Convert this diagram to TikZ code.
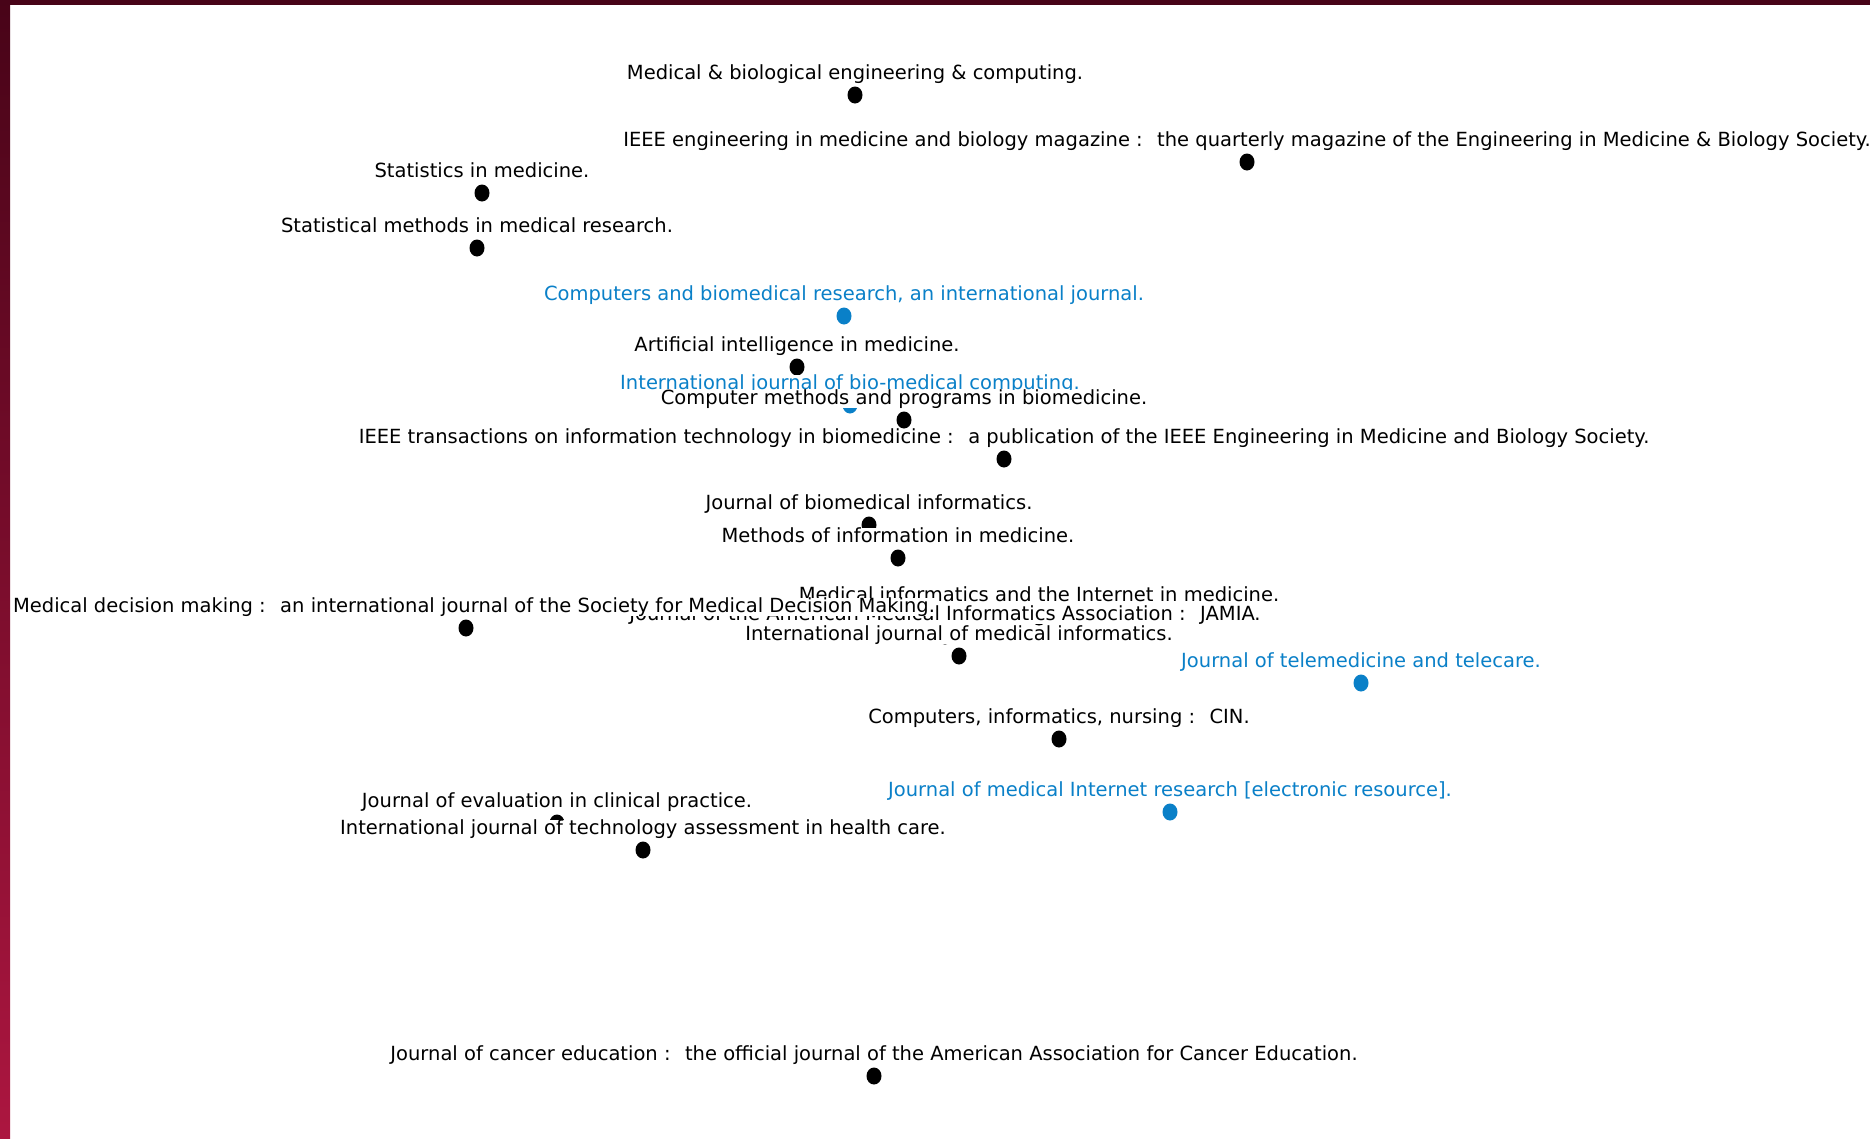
\documentclass[tikz,border=0pt]{standalone}
\usepackage{fontspec}
\setmainfont{DejaVu Sans}
\usetikzlibrary{shapes.geometric}
\definecolor{jblue}{RGB}{10,128,200}
\definecolor{barTop}{RGB}{72,4,24}
\definecolor{barBot}{RGB}{172,22,64}
\begin{document}
\begin{tikzpicture}[x=1pt,y=-1pt,
	jdot/.style={ellipse,fill=black,inner sep=0pt,minimum width=15pt,minimum height=17pt},
	bdot/.style={jdot,fill=jblue},
	lab/.style={fill=white,inner sep=0pt,text height=14pt,text depth=4pt,font=\fontsize{19.5}{22}\selectfont},
	blab/.style={lab,text=jblue}]
		%
		\useasboundingbox[fill=white] (0,0) rectangle (1870,1138);
		%
		\node[jdot] (d1) at (855,95) {};
		\node[lab] (t1) at (855,74) {Medical \& biological engineering \& computing.};
		\node[jdot] (d2) at (1247,162) {};
		\node[lab] (t2) at (1247,141) {IEEE engineering in medicine and biology magazine :~ the quarterly magazine of the Engineering in Medicine \& Biology Society.};
		\node[jdot] (d3) at (482,193) {};
		\node[lab] (t3) at (482,172) {Statistics in medicine.};
		\node[jdot] (d4) at (477,248) {};
		\node[lab] (t4) at (477,227) {Statistical methods in medical research.};
		\node[bdot] (d5) at (844,316) {};
		\node[blab] (t5) at (844,295) {Computers and biomedical research, an international journal.};
		\node[jdot] (d6) at (797,367) {};
		\node[lab] (t6) at (797,346) {Artificial intelligence in medicine.};
		\node[bdot] (d7) at (850,405) {};
		\node[blab] (t7) at (850,384) {International journal of bio-medical computing.};
		\node[jdot] (d8) at (904,420) {};
		\node[lab] (t8) at (904,399) {Computer methods and programs in biomedicine.};
		\node[jdot] (d9) at (1004,459) {};
		\node[lab] (t9) at (1004,438) {IEEE transactions on information technology in biomedicine :~ a publication of the IEEE Engineering in Medicine and Biology Society.};
		%
		\node[jdot] (d10) at (869,525) {};
		\node[lab] (t10) at (869,504) {Journal of biomedical informatics.};
		\node[jdot] (d11) at (898,558) {};
		\node[lab] (t11) at (898,537) {Methods of information in medicine.};
		\node[jdot] (d12) at (1039,617) {};
		\node[lab] (t12) at (1039,596) {Medical informatics and the Internet in medicine.};
		\node[jdot] (d14) at (945,636) {};
		\node[lab] (t14) at (945,615) {Journal of the American Medical Informatics Association :~ JAMIA.};
		\node[jdot] (d13) at (466,628) {};
		\node[lab] (t13) at (474,607) {Medical decision making :~ an international journal of the Society for Medical Decision Making.};
		\node[jdot] (d15) at (959,656) {};
		\node[lab] (t15) at (959,635) {International journal of medical informatics.};
		\node[bdot] (d16) at (1361,683) {};
		\node[blab] (t16) at (1361,662) {Journal of telemedicine and telecare.};
		\node[jdot] (d17) at (1059,739) {};
		\node[lab] (t17) at (1059,718) {Computers, informatics, nursing :~ CIN.};
		\node[bdot] (d18) at (1170,812) {};
		\node[blab] (t18) at (1170,791) {Journal of medical Internet research [electronic resource].};
		\node[jdot] (d19) at (557,823) {};
		\node[lab] (t19) at (557,802) {Journal of evaluation in clinical practice.};
		\node[jdot] (d20) at (643,850) {};
		\node[lab] (t20) at (643,829) {International journal of technology assessment in health care.};
		%
		\node[jdot] (d21) at (874,1076) {};
		\node[lab] (t21) at (874,1055) {Journal of cancer education :~ the official journal of the American Association for Cancer Education.};
		%
		\shade[top color=barTop,bottom color=barBot] (0,0) rectangle (10,1138);
		\fill[barTop] (0,0) rectangle (1870,5);
\end{tikzpicture}
\end{document}
